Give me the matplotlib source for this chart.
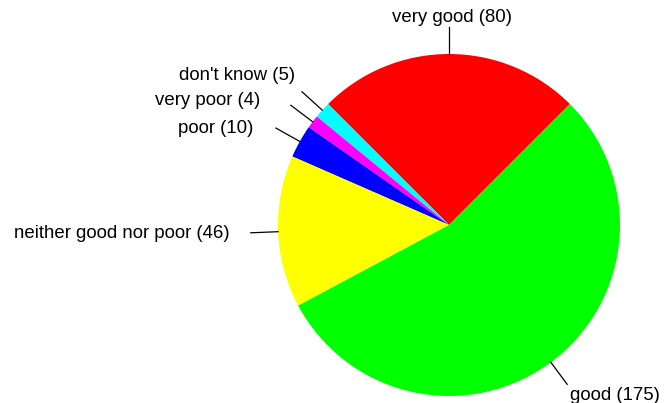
import numpy as np
import matplotlib
matplotlib.use("Agg")
import matplotlib.pyplot as plt

categories = ["very good", "don't know", "very poor", "poor", "neither good nor poor", "good"]
values = [80, 5, 4, 10, 46, 175]
colors = ["#FF0000", "#00FFFF", "#FF00FF", "#0000FF", "#FFFF00", "#00FF00"]

# label styling: text offset from line end (px), horizontal alignment
label_dx = [3, -7, -31, -23, -21, 3]
label_dy = [9, 16, 5, 0, -1, -11]
label_ha = ["center", "right", "right", "right", "right", "left"]

W, H = 666, 403
fig = plt.figure(figsize=(W / 100, H / 100), dpi=100)
ax = fig.add_axes([0, 0, 1, 1])
cx, cy, R = 449, H - 225, 171
start = 45
ax.pie(values, colors=colors, startangle=start, counterclock=True,
       radius=R, center=(cx, cy), wedgeprops=dict(linewidth=0))
ax.set_xlim(0, W)
ax.set_ylim(0, H)
ax.set_aspect("equal")
ax.axis("off")

total = sum(values)
cum = start
for i, (cat, v) in enumerate(zip(categories, values)):
    span = v / total * 360
    mid = np.deg2rad(cum + span / 2)
    cum += span
    x0, y0 = cx + R * np.cos(mid), cy + R * np.sin(mid)
    x1, y1 = cx + 1.16 * R * np.cos(mid), cy + 1.16 * R * np.sin(mid)
    ax.plot([x0, x1], [y0, y1], color="black", lw=0.9)
    ax.text(x1 + label_dx[i], y1 + label_dy[i], f"{cat} ({v})",
            ha=label_ha[i], va="center", fontsize=13.4,
            family=["Liberation Sans", "DejaVu Sans"])

fig.savefig("out.png", dpi=100)
